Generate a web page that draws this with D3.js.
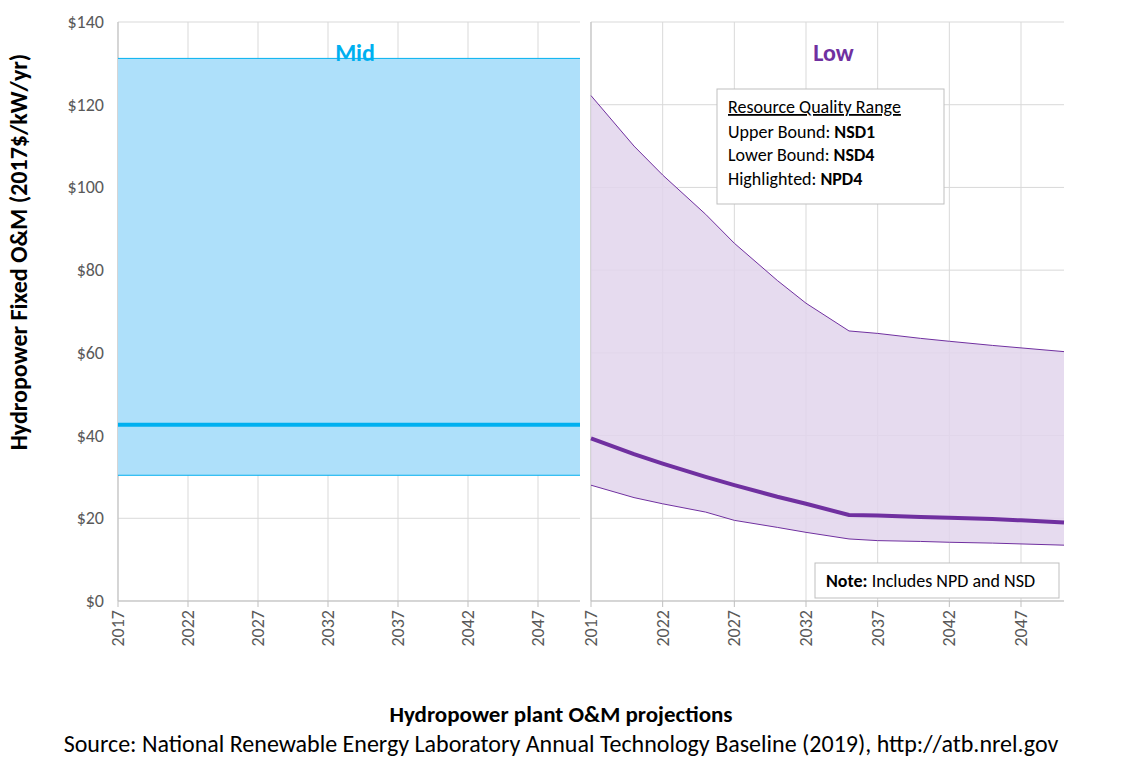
<!DOCTYPE html><html><head><meta charset="utf-8"><script src="https://cdn.jsdelivr.net/npm/d3@7"></script>
<style>body{margin:0;background:#fff}text{font-family:Calibri,Carlito,Lato,sans-serif}</style></head><body>
<svg id="c" width="1123" height="776"></svg>
<script>
const years=d3.range(2017,2051);
const tickYears=[2017,2022,2027,2032,2037,2042,2047];
const yTicks=[0,20,40,60,80,100,120,140];
const midUpper=131.2, midLower=30.4, midCentral=42.6;
const lowYears=[2017,2020,2022,2025,2027,2030,2032,2035,2037,2040,2042,2045,2047,2050];
const lowUpper=[122.2,110,103,93.5,86.5,77.5,72,65.3,64.7,63.5,62.8,61.8,61.2,60.3];
const lowCentral=[39.3,35.5,33.2,30,28,25.2,23.5,20.8,20.7,20.3,20.1,19.8,19.5,19.0];
const lowLower=[28,25,23.5,21.5,19.5,17.8,16.6,15,14.6,14.4,14.2,14,13.8,13.5];
const svg=d3.select("#c");
const y=d3.scaleLinear().domain([0,140]).range([601,22]);
const panels=[{x0:118,x1:580,name:"Mid",col:"#00b0f0",fill:"#aee0fa",type:"mid"},{x0:591,x1:1064,name:"Low",col:"#7030a0",fill:"#e2d5ec",type:"low"}];
yTicks.forEach(t=>{svg.append("text").attr("x",104).attr("y",y(t)+6).attr("text-anchor","end").attr("font-size",18).attr("fill","#595959").text("$"+t);});
panels.forEach(p=>{
 const x=d3.scaleLinear().domain([2017,2050]).range([p.x0,p.x1]);
 const g=svg.append("g");
 yTicks.forEach(t=>g.append("line").attr("x1",p.x0).attr("x2",p.x1).attr("y1",y(t)).attr("y2",y(t)).attr("stroke","#d9d9d9"));
 tickYears.forEach(t=>g.append("line").attr("x1",x(t)).attr("x2",x(t)).attr("y1",22).attr("y2",601).attr("stroke","#d9d9d9"));
 g.append("line").attr("x1",p.x0).attr("x2",p.x0).attr("y1",22).attr("y2",601).attr("stroke","#bfbfbf");
 g.append("line").attr("x1",p.x0).attr("x2",p.x1).attr("y1",601).attr("y2",601).attr("stroke","#bfbfbf");
 tickYears.forEach(t=>{g.append("line").attr("x1",x(t)).attr("x2",x(t)).attr("y1",601).attr("y2",607).attr("stroke","#bfbfbf");
  g.append("text").attr("transform",`translate(${x(t)+6},${610}) rotate(-90)`).attr("text-anchor","end").attr("font-size",18).attr("fill","#595959").text(t);});
 let up,lo,ce,xs;
 if(p.type=="mid"){xs=years;up=years.map(()=>midUpper);lo=years.map(()=>midLower);ce=years.map(()=>midCentral);}
 else{xs=lowYears;up=lowUpper;lo=lowLower;ce=lowCentral;}
 const area=d3.area().x((d,i)=>x(xs[i])).y0((d,i)=>y(lo[i])).y1(d=>y(d));
 g.append("path").attr("d",area(up)).attr("fill",p.fill).attr("opacity",p.type=="mid"?1:0.85);
 const line=d3.line().x((d,i)=>x(xs[i])).y(d=>y(d));
 g.append("path").attr("d",line(up)).attr("fill","none").attr("stroke",p.col).attr("stroke-width",1);
 g.append("path").attr("d",line(lo)).attr("fill","none").attr("stroke",p.col).attr("stroke-width",1);
 g.append("path").attr("d",line(ce)).attr("fill","none").attr("stroke",p.col).attr("stroke-width",4);
 g.append("text").attr("x",(p.x0+p.x1)/2+6).attr("y",61).attr("text-anchor","middle").attr("font-size",24).attr("font-weight","bold").attr("fill",p.col).text(p.name);
});
const lg=svg.append("g");
lg.append("rect").attr("x",717).attr("y",89).attr("width",227).attr("height",115).attr("fill","#fff").attr("stroke","#bfbfbf");
lg.append("text").attr("x",728).attr("y",113).attr("font-size",18).attr("text-decoration","underline").text("Resource Quality Range");
[["Upper Bound: ","NSD1",138],["Lower Bound: ","NSD4",161],["Highlighted: ","NPD4",185]].forEach(r=>{
 const t=lg.append("text").attr("x",728).attr("y",r[2]).attr("font-size",18);
 t.append("tspan").text(r[0]);t.append("tspan").attr("font-weight","bold").text(r[1]);});
svg.append("rect").attr("x",815).attr("y",563).attr("width",244).attr("height",35).attr("fill","#fff").attr("stroke","#bfbfbf");
const nt=svg.append("text").attr("x",826).attr("y",587).attr("font-size",18);
nt.append("tspan").attr("font-weight","bold").text("Note: ");nt.append("tspan").text("Includes NPD and NSD");
svg.append("text").attr("transform","translate(27,252) rotate(-90)").attr("text-anchor","middle").attr("font-size",24).attr("font-weight","bold").text("Hydropower Fixed O&M (2017$/kW/yr)");
svg.append("text").attr("x",561).attr("y",722).attr("text-anchor","middle").attr("font-size",23).attr("font-weight","bold").text("Hydropower plant O&M projections");
svg.append("text").attr("x",561).attr("y",752).attr("text-anchor","middle").attr("font-size",24).text("Source: National Renewable Energy Laboratory Annual Technology Baseline (2019),  http://atb.nrel.gov");
</script></body></html>
